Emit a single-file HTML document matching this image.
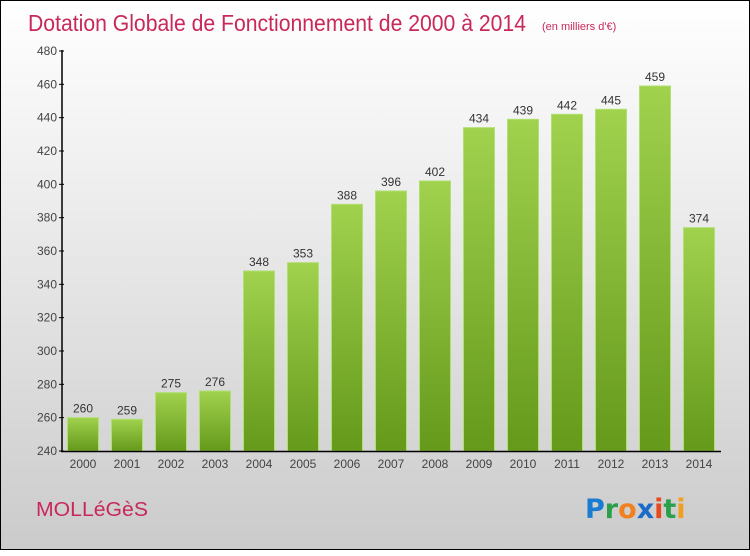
<!DOCTYPE html>
<html><head><meta charset="utf-8"><style>
body{margin:0;width:750px;height:550px;overflow:hidden;font-family:"Liberation Sans",sans-serif}
#wrap{position:absolute;left:0;top:0;width:748px;height:548px;border:1px solid #000;background:linear-gradient(#ffffff,#f0f0f0 30%,#cbcbcb)}
</style></head><body>
<div id="wrap">
<svg width="750" height="550">
<defs><linearGradient id="bg" x1="0" y1="0" x2="0" y2="1"><stop offset="0" stop-color="#a0d24e"/><stop offset="1" stop-color="#65991a"/></linearGradient></defs>
<text x="27" y="30" font-size="23" fill="#c8285a" textLength="498" lengthAdjust="spacingAndGlyphs">Dotation Globale de Fonctionnement de 2000 à 2014</text>
<text x="541" y="29" font-size="11" fill="#c8285a">(en milliers d'€)</text>
<g id="g"></g>
<text x="35" y="515" font-size="20" fill="#c8285a" textLength="112" lengthAdjust="spacingAndGlyphs">MOLLéGèS</text>
<g font-size="27" font-weight="bold" font-family="'DejaVu Sans',sans-serif">
<text x="584" y="517"><tspan fill="#1a7cd0">P</tspan><tspan fill="#2aa04a">r</tspan><tspan fill="#f08020">o</tspan><tspan fill="#1a6cc8">x</tspan><tspan fill="#e84a20">i</tspan><tspan fill="#2aa04a">t</tspan><tspan fill="#f0a020">i</tspan></text></g>
</svg></div>
<script>
const years=["2000","2001","2002","2003","2004","2005","2006","2007","2008","2009","2010","2011","2012","2013","2014"];
const values=[260,259,275,276,348,353,388,396,402,434,439,442,445,459,374];
const ticks=[240,260,280,300,320,340,360,380,400,420,440,460,480];
const g=document.getElementById('g');const NS='http://www.w3.org/2000/svg';
const y=v=>450-(v-240)*400/240, x=i=>82+i*44;
function el(t,a,txt){const e=document.createElementNS(NS,t);for(const k in a)e.setAttribute(k,a[k]);if(txt!=null)e.textContent=txt;g.appendChild(e);return e;}
ticks.forEach(t=>{const e=el('text',{x:56,y:y(t)+4,'font-size':12,fill:'#444','text-anchor':'end'},t);


const l=el('line',{x1:58,x2:63,y1:y(t),y2:y(t),stroke:'#000'});

});
values.forEach((v,i)=>{const r=el('rect',{x:x(i)-15.5,y:y(v),width:31,height:450-y(v),fill:'url(#bg)',stroke:'#b0e070','stroke-width':1});


const t=el('text',{x:x(i),y:y(v)-5,'font-size':12,fill:'#333','text-anchor':'middle'},v);


const c=el('text',{x:x(i),y:467,'font-size':12,fill:'#444','text-anchor':'middle'},years[i]);

});
const ya=el('line',{x1:61,x2:61,y1:49,y2:451,stroke:'#000','stroke-width':1.5});


const xa=el('line',{x1:60,x2:720,y1:450.5,y2:450.5,stroke:'#000','stroke-width':1.5});


</script>
</body></html>
